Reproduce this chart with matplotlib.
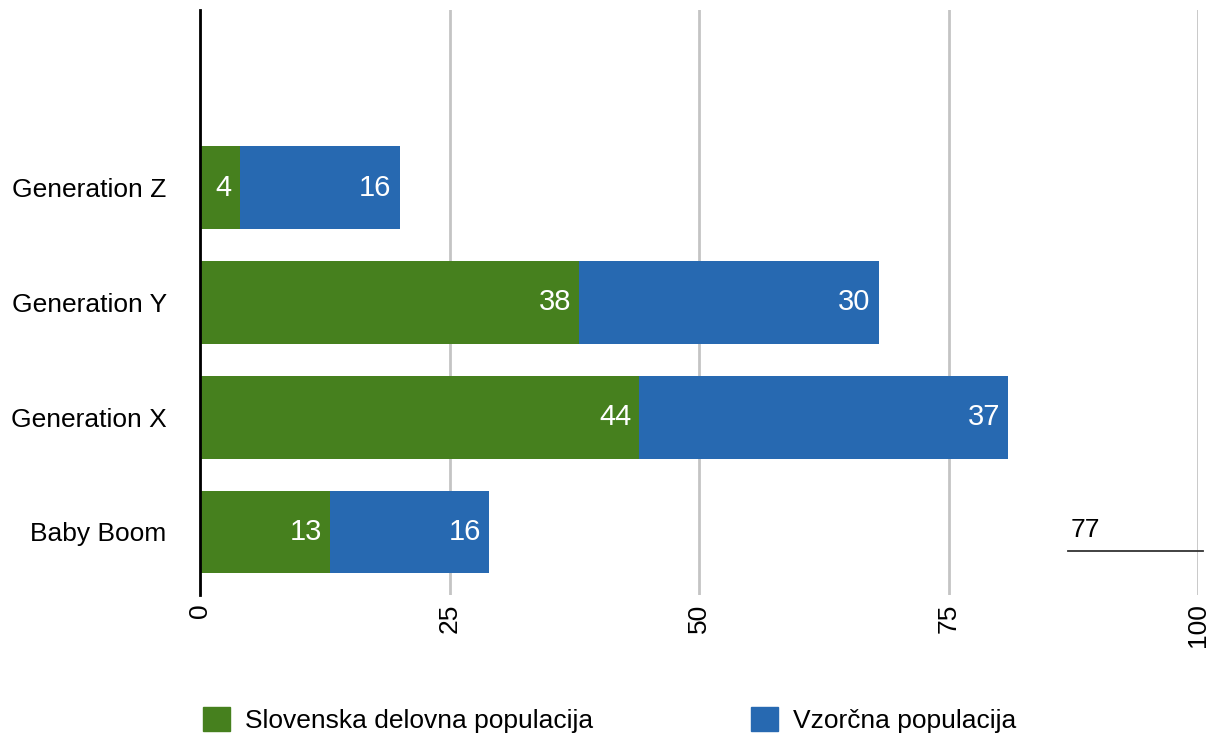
import matplotlib.pyplot as plt
from matplotlib.patches import Patch

plt.rcParams['font.family'] = ['Liberation Sans', 'DejaVu Sans']

categories = ['Baby Boom', 'Generation X', 'Generation Y', 'Generation Z', '']
slovenska = [13, 44, 38, 4, 0]
vzorcna = [16, 37, 30, 16, 0]
series_names = ['Slovenska delovna populacija', 'Vzorčna populacija']
x_ticks = [0, 25, 50, 75, 100]
note_value = '77'

green = '#46801e'
blue = '#2769b1'

fig = plt.figure(figsize=(12.16, 7.35), dpi=100)
ax = fig.add_axes([200 / 1216, 140 / 735, 998 / 1216, 585 / 735])

ypos = list(range(len(categories)))
h = 0.72
ax.barh(ypos[:4], slovenska[:4], height=h, color=green, zorder=3)
ax.barh(ypos[:4], vzorcna[:4], left=slovenska[:4], height=h, color=blue, zorder=3)

for i in range(4):
    ax.text(slovenska[i] - 0.8, ypos[i], str(slovenska[i]), color='white',
            fontsize=21, ha='right', va='center', zorder=4)
    ax.text(slovenska[i] + vzorcna[i] - 0.8, ypos[i], str(vzorcna[i]),
            color='white', fontsize=21, ha='right', va='center', zorder=4)

ax.set_xlim(0, 100)
ax.set_ylim(-0.55, 4.55)
ax.set_xticks(x_ticks)
ax.set_xticklabels([str(t) for t in x_ticks], rotation=90, fontsize=19)
ax.set_yticks(ypos[:4])
ax.set_yticklabels(categories[:4], fontsize=19)
ax.tick_params(axis='y', length=0, pad=24)
ax.tick_params(axis='x', length=0, pad=6)
ax.xaxis.grid(True, color='#c4c4c4', linewidth=2, zorder=0)

for s in ['top', 'right', 'bottom']:
    ax.spines[s].set_visible(False)
ax.spines['left'].set_linewidth(2)
ax.spines['left'].set_zorder(5)

# stray annotation near the lower right
ax.text(87.2, -0.09, note_value, fontsize=19, ha='left', va='bottom')
ax.plot([87.0, 100.5], [-0.165, -0.165], color='#333333', linewidth=1.3,
        clip_on=False, zorder=4)

handles = [Patch(color=green), Patch(color=blue)]
fig.legend(handles, series_names, loc='center left', bbox_to_anchor=(0.1476, 0.02),
           ncol=2, frameon=False, fontsize=19, handlelength=1.0, handleheight=1.0,
           handletextpad=0.6, columnspacing=5.97)

fig.savefig('out.png', dpi=100)
